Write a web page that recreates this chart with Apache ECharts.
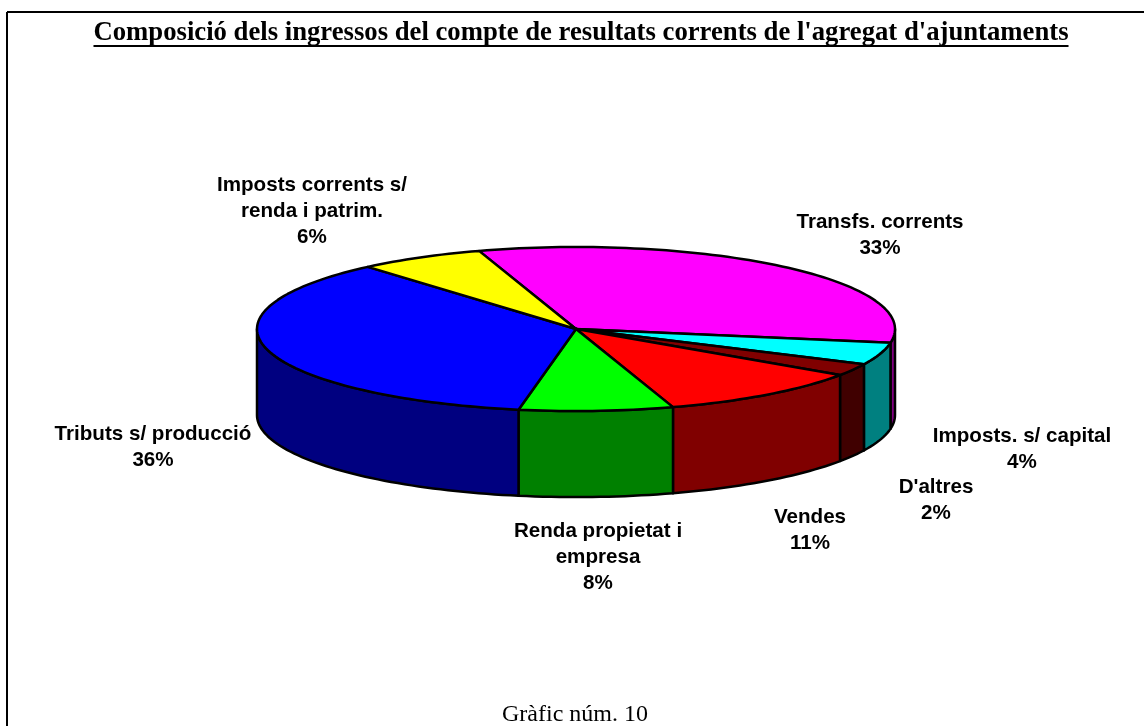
<!DOCTYPE html>
<html>
<head>
<meta charset="utf-8">
<title>Composició dels ingressos</title>
<script src="https://cdn.jsdelivr.net/npm/echarts@6/dist/echarts.min.js"></script>
<style>
html, body { margin: 0; padding: 0; background: #fff; }
#chart { width: 1144px; height: 726px; }
</style>
</head>
<body>
<div id="chart"></div>
<script>
// dades: pes de cada concepte sobre el total d'ingressos corrents (%)
var categories = ['Transfs. corrents', 'Imposts. s/ capital', "D'altres", 'Vendes',
	'Renda propietat i empresa', 'Tributs s/ producció', 'Imposts corrents s/ renda i patrim.'];
var values = [32.6, 4.4, 2.4, 10.6, 7.8, 35.8, 6.4];
// text de les etiquetes, amb els salts de línia de l'original
var labelNames = ['Transfs. corrents', 'Imposts. s/ capital', "D'altres", 'Vendes',
	'Renda propietat i\nempresa', 'Tributs s/ producció', 'Imposts corrents s/\nrenda i patrim.'];

var topColors = ['#FF00FF', '#00FFFF', '#800000', '#FF0000', '#00FF00', '#0000FF', '#FFFF00'];
var sideColors = ['#800080', '#008080', '#400000', '#800000', '#008000', '#000080', '#808000'];
// centre de cada etiqueta (px)
var labelPos = [[880, 235], [1022, 449], [936, 500], [810, 530], [598, 557], [153, 447], [312, 211]];

var START = -17.7; // graus, des de les 12 en sentit horari
var DEPTH = 1.05;  // gruix del pastís en unitats de l'eix y

var total = values.reduce(function (a, b) { return a + b; }, 0);
var angles = [];
var acc = START;
values.forEach(function (v) {
	var a0 = acc;
	acc += v / total * 360;
	angles.push([a0, acc]);
});

function pt(api, deg, dy) {
	var r = deg * Math.PI / 180;
	return api.coord([Math.sin(r), Math.cos(r) - (dy || 0)]);
}
function arc(api, a0, a1, dy) {
	var pts = [];
	var n = Math.max(2, Math.ceil((a1 - a0) / 1.5));
	for (var i = 0; i <= n; i++) {
		pts.push(pt(api, a0 + (a1 - a0) * i / n, dy));
	}
	return pts;
}

function renderItem(params, api) {
	var i = params.dataIndex;
	var a0 = angles[i][0], a1 = angles[i][1];
	var children = [];
	// paret exterior visible (meitat de davant: 90..270 graus)
	[-270, 90, 450].forEach(function (base) {
		var s = Math.max(a0, base), e = Math.min(a1, base + 180);
		if (e > s) {
			var up = arc(api, s, e, 0);
			var down = arc(api, s, e, DEPTH).reverse();
			children.push({
				type: 'polygon',
				shape: { points: up.concat(down) },
				style: { fill: sideColors[i], stroke: '#000', lineWidth: 2.5, lineJoin: 'round' },
				z2: 1
			});
		}
	});
	// cara superior
	children.push({
		type: 'polygon',
		shape: { points: [api.coord([0, 0])].concat(arc(api, a0, a1, 0)) },
		style: { fill: topColors[i], stroke: '#000', lineWidth: 2.5, lineJoin: 'round' },
		z2: 2
	});
	children.push({
		type: 'text',
		x: labelPos[i][0],
		y: labelPos[i][1],
		style: {
			text: labelNames[i] + '\n' + Math.round(values[i] / total * 100) + '%',
			fill: '#000',
			font: 'bold 20.6px "Liberation Sans", Arial, sans-serif',
			align: 'center',
			verticalAlign: 'middle',
			lineHeight: 26
		},
		z2: 3
	});
	return { type: 'group', children: children };
}

var titleText = "Composició dels ingressos del compte de resultats corrents de l'agregat d'ajuntaments";
var titleFont = 'bold 26.7px "Liberation Serif", "Times New Roman", serif';
var ctx = document.createElement('canvas').getContext('2d');
ctx.font = titleFont;
var titleW = ctx.measureText(titleText).width;

var chart = echarts.init(document.getElementById('chart'), null, { renderer: 'canvas' });
chart.setOption({
	animation: false,
	backgroundColor: '#fff',
	grid: { left: 257, top: 247, width: 638, height: 164 },
	xAxis: { type: 'value', min: -1, max: 1, show: false },
	yAxis: { type: 'value', min: -1, max: 1, show: false },
	graphic: [
		{ type: 'line', shape: { x1: 7, y1: 12, x2: 1144, y2: 12 }, style: { stroke: '#000', lineWidth: 2 } },
		{ type: 'line', shape: { x1: 7, y1: 12, x2: 7, y2: 726 }, style: { stroke: '#000', lineWidth: 2 } },
		{
			type: 'text', x: 581, y: 33,
			style: { text: titleText, font: titleFont, fill: '#000', align: 'center', verticalAlign: 'middle' }
		},
		{
			type: 'line',
			shape: { x1: 581 - titleW / 2, y1: 46, x2: 581 + titleW / 2, y2: 46 },
			style: { stroke: '#000', lineWidth: 2 }
		},
		{
			type: 'text', x: 575, y: 715,
			style: { text: 'Gràfic núm. 10', font: '24px "Liberation Serif", "Times New Roman", serif', fill: '#000', align: 'center', verticalAlign: 'middle' }
		}
	],
	series: [{
		type: 'custom',
		coordinateSystem: 'cartesian2d',
		renderItem: renderItem,
		data: values.map(function (v, i) { return { name: categories[i], value: [i, v] }; })
	}]
});
</script>
</body>
</html>
